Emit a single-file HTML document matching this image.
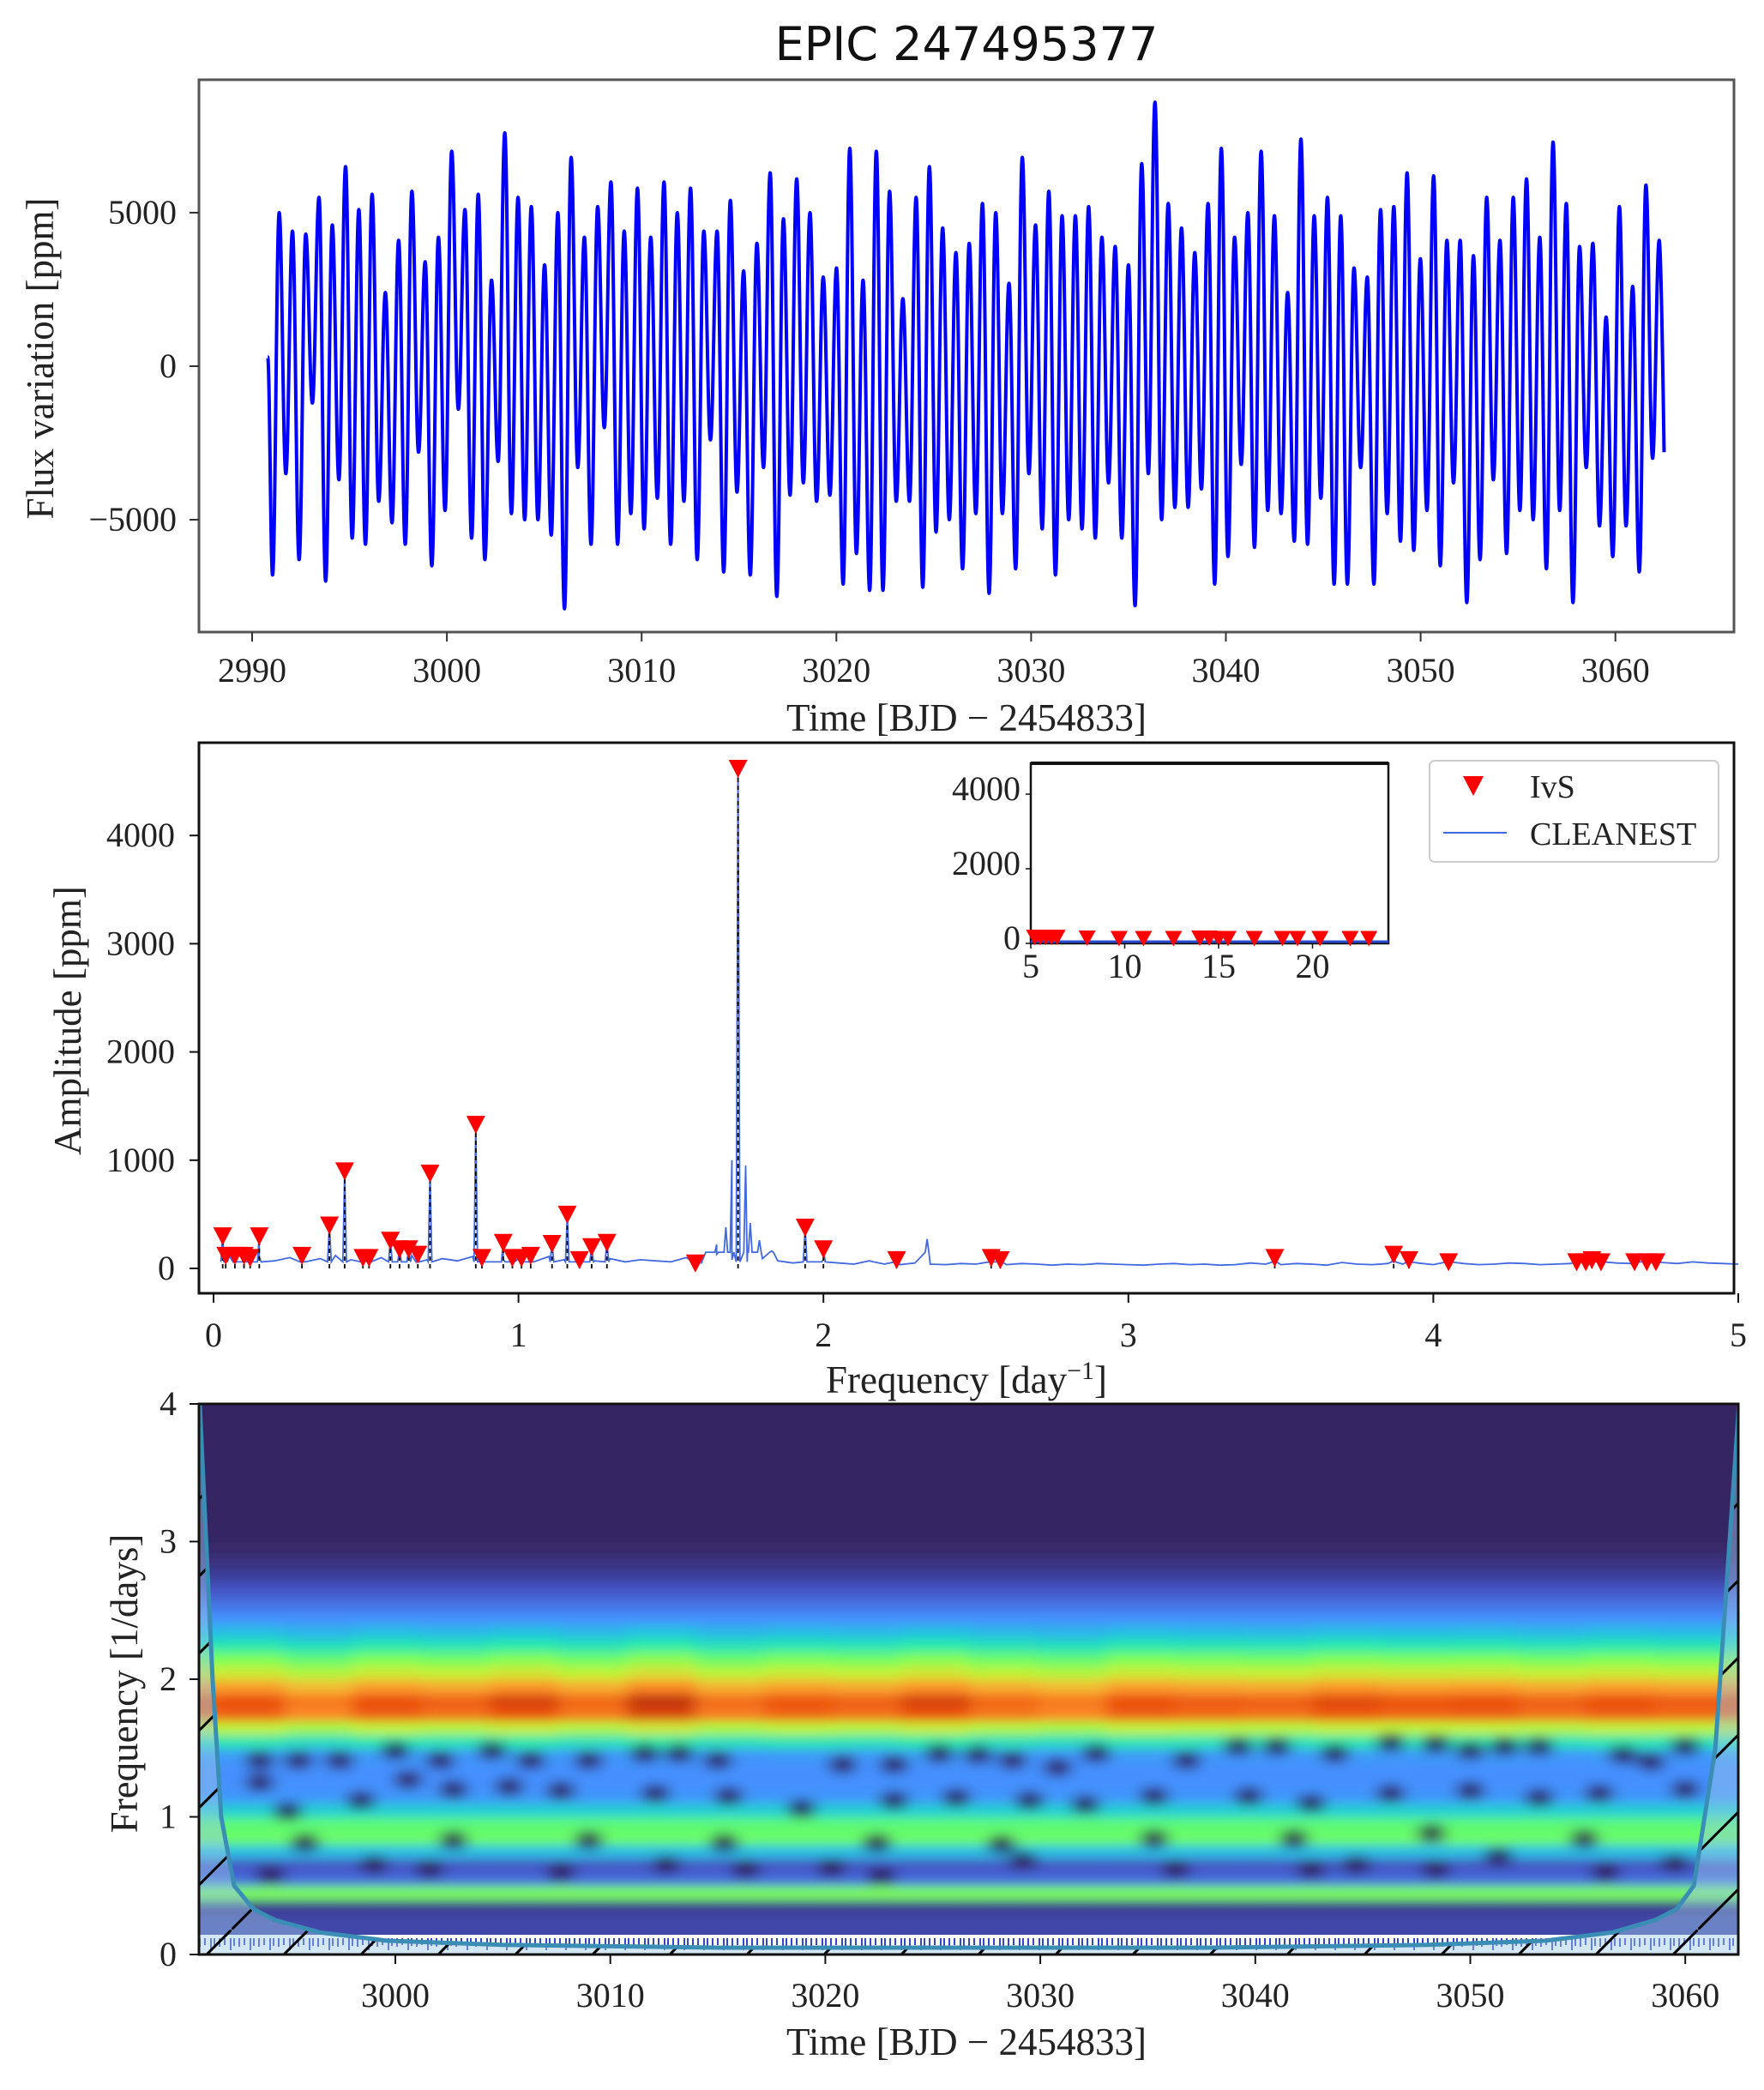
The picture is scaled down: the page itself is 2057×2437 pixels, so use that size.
<!DOCTYPE html>
<html><head><meta charset="utf-8"><style>
html,body{margin:0;padding:0;background:#fff}
svg{display:block}
.tk{font-family:"Liberation Serif",serif;font-size:40px;fill:#222}
.lb{font-family:"Liberation Serif",serif;font-size:45px;fill:#222}
</style></head><body>
<svg id="fig" width="2057" height="2437" viewBox="0 0 2057 2437" xmlns="http://www.w3.org/2000/svg">
<defs>
<pattern id="hatch" width="90" height="90" patternUnits="userSpaceOnUse"><path d="M0,90 L90,0" stroke="#000" stroke-width="3"/></pattern>
<pattern id="rug" width="23" height="20" patternUnits="userSpaceOnUse"><rect width="23" height="20" fill="#fff"/><path d="M3,0V10M9,0V8M16,0V14M20,0V9" stroke="#3446c8" stroke-width="2"/></pattern>
<clipPath id="c1"><rect x="232" y="93" width="1790" height="644"/></clipPath>
<clipPath id="c3"><rect x="232" y="1637" width="1795" height="642"/></clipPath>
<filter id="bl" x="-5%" y="-5%" width="110%" height="110%"><feGaussianBlur stdDeviation="9 6"/></filter>
</defs>
<text x="1127" y="70" text-anchor="middle" style="font-family:'DejaVu Sans','Liberation Sans',sans-serif;font-size:54px;fill:#111">EPIC 247495377</text>
<g id="p1"></g><g id="p2"></g><g id="p3"></g>
</svg>
<script>
// ---------- data: light curve extremes (ppm) ----------
const fluxPeaks=[5000,4400,4300,5500,4600,6500,5100,5600,2400,4100,5700,3400,4200,7000,5100,5600,2800,7600,5500,5200,3300,5000,6800,4200,5200,6000,4400,5800,4200,6000,5000,5800,4400,4400,5400,3100,4000,6300,4800,6100,5000,2900,3200,7100,2800,7000,5700,2200,5500,6500,4500,3700,4000,5300,5000,2700,6800,4600,5700,4900,4900,5200,4200,3900,3300,6600,8600,5300,4500,3700,5300,7100,4200,5000,7000,4900,2400,7400,4900,5500,4900,3200,2900,5100,5200,6300,3500,6200,4100,4100,3600,5500,4100,5500,6100,4200,7300,5300,3900,4000,1600,5200,2600,5900,4100,5300,5400,3100];
const fluxTroughs=[-6800,-3500,-6300,-1200,-7000,-3700,-5600,-5800,-4400,-5100,-5800,-2800,-6500,-4700,-1400,-5600,-6300,-3100,-4800,-5000,-5000,-5500,-7900,-3300,-5800,-2000,-5800,-4800,-5300,-4300,-5800,-4400,-6300,-2400,-6700,-4100,-6800,-3300,-7500,-4200,-3800,-4400,-4200,-7100,-6100,-7300,-7300,-4400,-4400,-7200,-5400,-5000,-6600,-4800,-7400,-4800,-6600,-3500,-5300,-6800,-5000,-5300,-5600,-3800,-5600,-7800,-3500,-5000,-4600,-4600,-4000,-7100,-6200,-3200,-5900,-4700,-4800,-5700,-5800,-4300,-7100,-7100,-3300,-7100,-4800,-5700,-6000,-4700,-6500,-3800,-7700,-6300,-3700,-6100,-4700,-5000,-6600,-4700,-7700,-3300,-5200,-6200,-5200,-6700,-3000];
const timeStart=2990.8, timeEnd=3062.5, fluxStart=300, fluxEnd=-2800;
const p1XTicks=[2990,3000,3010,3020,3030,3040,3050,3060];
const p1YTicks=[-5000,0,5000];
// ---------- data: periodogram ----------
const ivsFreq=[0.03,0.04,0.07,0.10,0.12,0.15,0.29,0.38,0.43,0.49,0.51,0.58,0.61,0.64,0.67,0.71,0.86,0.88,0.95,0.98,1.01,1.04,1.11,1.16,1.20,1.24,1.29,1.58,1.72,1.94,2.00,2.24,2.55,2.58,3.48,3.87,3.92,4.05,4.47,4.50,4.52,4.55,4.66,4.70,4.73];
const ivsAmp=[300,120,120,120,100,300,120,400,900,100,100,260,180,180,130,880,1330,100,240,100,100,120,230,500,80,200,240,50,4620,380,180,80,100,80,100,130,80,60,60,60,80,60,60,60,60];
const lobeFreq=[1.62,1.65,1.68,1.70,1.745,1.76,1.79,1.83,2.34];
const lobeAmp=[150,220,380,1000,950,420,260,160,270];
const noiseAmp=[80,120,90,110,70,100,60,90,120,80,70,100,60,120,80,90,70,110,60,80,90,60,110,80,100,70,90,60,80,70,60,100,50,130,80,60,90,70,50,60,80,50,40,70,40,35,50,40,35,45,40,30,35,45,40,30,40,35,45,40,35,30,40,45,35,40,30,35,50,40,35,45,40,30,55,40,35,45,40,50,35,40,45,35,40,50,45,35,40,45,40,35,50,45,40,55,45,60,50,45,40];
const p2XTicks=[0,1,2,3,4,5];
const p2YTicks=[0,1000,2000,3000,4000];
const insetIvsFreq=[5.2,5.5,5.8,6.1,6.4,8.0,9.7,11.0,12.6,14.0,14.5,15.0,15.5,16.9,18.4,19.2,20.4,22.0,23.0];
const insetIvsAmp=[180,180,180,180,180,160,150,150,150,160,160,150,150,150,150,150,150,150,150];
const insetXTicks=[5,10,15,20];
const insetYTicks=[0,2000,4000];
// ---------- data: wavelet ----------
const wvFreqProfile=[0.05,0.08,0.08,0.06,0.50,0.14,0.10,0.28,0.48,0.46,0.32,0.21,0.20,0.20,0.22,0.38,0.60,0.88,0.90,0.78,0.62,0.50,0.38,0.28,0.20,0.15,0.10,0.07,0.05,0.035,0.03,0.03,0.03,0.03,0.03,0.03,0.03,0.03,0.03,0.03];
const wvTimeMod=[0.98,1.0,0.93,1.0,0.97,1.02,0.96,1.04,0.95,0.99,0.97,1.02,0.96,0.93,1.0,0.98,0.97,1.01,0.99,1.0,0.97,1.0,0.98,0.99];
const spotTime=[2993.7,2995.5,2997.4,3000.0,3002.1,3004.5,3006.3,3009.0,3011.6,3013.2,3015.0,3020.8,3023.2,3025.3,3027.1,3028.7,3030.8,3032.6,3036.8,3039.2,3041.0,3043.7,3046.3,3048.4,3050.0,3051.6,3053.2,3057.1,3058.4,3060.0,
 2993.7,2998.4,3000.6,3002.7,3005.3,3007.7,3012.1,3015.5,3018.9,3023.2,3026.1,3029.5,3032.1,3035.3,3039.7,3042.6,3046.3,3050.0,3053.2,3056.0,3060.0,
 2995.0,2995.8,3002.7,3009.0,3015.3,3022.4,3028.2,3035.3,3041.8,3048.2,3055.3,
 2994.2,2999.0,3001.6,3007.7,3012.6,3016.3,3020.3,3022.6,3029.2,3036.3,3042.6,3044.7,3048.4,3051.3,3056.3,3059.5];
const spotFreq=[1.41,1.41,1.41,1.48,1.41,1.48,1.41,1.41,1.46,1.46,1.41,1.38,1.38,1.46,1.45,1.41,1.36,1.46,1.41,1.51,1.51,1.46,1.54,1.53,1.48,1.51,1.51,1.45,1.40,1.51,
 1.25,1.12,1.27,1.20,1.22,1.19,1.17,1.15,1.06,1.12,1.14,1.12,1.09,1.15,1.15,1.10,1.17,1.19,1.14,1.17,1.20,
 1.04,0.81,0.83,0.83,0.81,0.81,0.80,0.84,0.84,0.88,0.84,
 0.58,0.65,0.62,0.60,0.65,0.62,0.63,0.57,0.68,0.62,0.62,0.65,0.62,0.71,0.60,0.66];
const p3XTicks=[3000,3010,3020,3030,3040,3050,3060];
const p3YTicks=[0,1,2,3,4];
const coiTime=[2990.9,2991.5,2991.9,2992.5,2993.4,2994.4,2996.5,2999.6,3005,3015,3026,3038,3048,3053.5,3056.6,3058.6,3059.6,3060.4,3061.4,3062.5];
const coiFreq=[4.0,2.0,1.0,0.5,0.33,0.25,0.16,0.1,0.07,0.05,0.05,0.05,0.07,0.1,0.16,0.25,0.33,0.5,1.5,4.0];

const NS='http://www.w3.org/2000/svg';
function mk(par,tag,at,txt){const e=document.createElementNS(NS,tag);for(const k in at)e.setAttribute(k,at[k]);if(txt!==undefined)e.textContent=txt;par.appendChild(e);return e;}

// ================= Panel 1 =================
(function(){
const g=document.getElementById('p1');
const X=t=>294+(t-2990)*22.71, Y=v=>427-v*0.0358;
const n=Math.min(fluxPeaks.length,fluxTroughs.length);
const ext=[];for(let i=0;i<n;i++){ext.push(fluxTroughs[i]);ext.push(fluxPeaks[i]);}
const t1=2991.05,t2=3062.25,dt=(t2-t1)/(ext.length-1);
let d='M'+X(timeStart)+','+Y(fluxStart)+' ';
let px=X(timeStart),py=Y(fluxStart);
ext.forEach((v,i)=>{const x=X(t1+i*dt),y=Y(v);const h=(x-px)*0.4;d+='C'+(px+h)+','+py+' '+(x-h)+','+y+' '+x+','+y+' ';px=x;py=y;});
const xe=X(timeEnd),ye=Y(fluxEnd);d+='C'+(px+(xe-px)*0.4)+','+py+' '+xe+','+ye+' '+xe+','+ye;
const p=mk(g,'path',{d:d,fill:'none',stroke:'#0000ff','stroke-width':4,'clip-path':'url(#c1)'});


const fr=mk(g,'rect',{x:232,y:93,width:1790,height:644,fill:'none',stroke:'#555','stroke-width':3});


p1XTicks.forEach(t=>{mk(g,'line',{x1:X(t),x2:X(t),y1:737,y2:748,stroke:'#333','stroke-width':2});
 const tx=mk(g,'text',{x:X(t),y:795,'text-anchor':'middle',class:'tk'},t);
 
 });
p1YTicks.forEach(v=>{mk(g,'line',{x1:221,x2:232,y1:Y(v),y2:Y(v),stroke:'#333','stroke-width':2});
 const tx=mk(g,'text',{x:206,y:Y(v)+13,'text-anchor':'end',class:'tk'},v<0?'−'+(-v):v);
 
 });
const xl=mk(g,'text',{x:1127,y:852,'text-anchor':'middle',class:'lb'},'Time [BJD − 2454833]');


const yl=mk(g,'text',{x:0,y:0,'text-anchor':'middle',class:'lb',transform:'translate(62,418) rotate(-90)'},'Flux variation [ppm]');


})();

// ================= Panel 2 =================
(function(){
const g=document.getElementById('p2');
const X=f=>249+f*355.6, Y=a=>1479-a*0.1262;
let pts=[];
noiseAmp.forEach((a,i)=>pts.push([i*0.05,a]));
ivsFreq.forEach((f,i)=>{pts.push([f,ivsAmp[i]]);pts.push([f-0.006,60]);pts.push([f+0.006,60]);});
lobeFreq.forEach((f,i)=>{pts.push([f,lobeAmp[i]]);pts.push([f-0.006,Math.min(lobeAmp[i],150)]);pts.push([f+0.006,Math.min(lobeAmp[i],150)]);});
pts.sort((a,b)=>a[0]-b[0]);pts=pts.filter(p=>p[0]>=0.02&&p[0]<=5);
const sp=mk(g,'polyline',{points:pts.map(p=>X(p[0]).toFixed(1)+','+Y(p[1]).toFixed(1)).join(' '),fill:'none',stroke:'#4169e1','stroke-width':1.8});


ivsFreq.forEach((f,i)=>{
 const l=mk(g,'line',{x1:X(f),x2:X(f),y1:Y(0),y2:Y(ivsAmp[i]),stroke:'#000','stroke-width':1.8,'stroke-dasharray':'5,4'});
 
 
 const x=X(f),y=Y(ivsAmp[i]);
 const m=mk(g,'path',{d:`M${x-11},${y-10} L${x+11},${y-10} L${x},${y+11} Z`,fill:'#ff0000'});
 
 });
const fr=mk(g,'rect',{x:232,y:866,width:1790,height:642,fill:'none',stroke:'#111','stroke-width':3});


p2XTicks.forEach(t=>{mk(g,'line',{x1:X(t),x2:X(t),y1:1508,y2:1519,stroke:'#111','stroke-width':2});
 const tx=mk(g,'text',{x:X(t),y:1570,'text-anchor':'middle',class:'tk'},t);
 
 });
p2YTicks.forEach(v=>{mk(g,'line',{x1:221,x2:232,y1:Y(v),y2:Y(v),stroke:'#111','stroke-width':2});
 const tx=mk(g,'text',{x:204,y:Y(v)+13,'text-anchor':'end',class:'tk'},v);
 
 });
const xl=mk(g,'text',{x:1127,y:1624,'text-anchor':'middle',class:'lb'},'Frequency [day');


mk(xl,'tspan',{dy:-16,'font-size':30},'−1');mk(xl,'tspan',{dy:16},']');
const yl=mk(g,'text',{x:0,y:0,'text-anchor':'middle',class:'lb',transform:'translate(94,1190) rotate(-90)'},'Amplitude [ppm]');


// inset
const IX=f=>1202+(f-5)*21.9, IY=a=>1100-a*0.0435;
const ib=mk(g,'rect',{x:1202,y:890,width:417,height:210,fill:'#fff',stroke:'#111','stroke-width':2.5});


mk(g,'line',{x1:1202,x2:1619,y1:890,y2:890,stroke:'#111','stroke-width':4});
mk(g,'line',{x1:1202,x2:1619,y1:1098,y2:1098,stroke:'#2a4bd0','stroke-width':3});
insetIvsFreq.forEach((f,i)=>{const x=IX(f),y=IY(insetIvsAmp[i]);
 const m=mk(g,'path',{d:`M${x-10},${y-8} L${x+10},${y-8} L${x},${y+10} Z`,fill:'#ff0000'});
 
 });
insetXTicks.forEach(t=>{mk(g,'line',{x1:IX(t),x2:IX(t),y1:1100,y2:1106,stroke:'#111','stroke-width':1.5});
 const tx=mk(g,'text',{x:IX(t),y:1140,'text-anchor':'middle',class:'tk','font-size':19},t);
 
 });
insetYTicks.forEach(v=>{mk(g,'line',{x1:1196,x2:1202,y1:IY(v),y2:IY(v),stroke:'#111','stroke-width':1.5});
 const tx=mk(g,'text',{x:1190,y:IY(v)+7,'text-anchor':'end',class:'tk','font-size':19},v);
 
 });
// legend
const lg=mk(g,'g',{});


mk(lg,'rect',{x:1667,y:887,width:337,height:118,rx:6,fill:'#fff',stroke:'#ccc','stroke-width':2});
const lm=mk(lg,'path',{d:'M1706,905 L1730,905 L1718,928 Z',fill:'#ff0000'});


const lt=mk(lg,'text',{x:1784,y:930,class:'tk',style:'font-size:38px'},'IvS');


mk(lg,'line',{x1:1683,x2:1757,y1:971,y2:971,stroke:'#4169e1','stroke-width':2});
const lt2=mk(lg,'text',{x:1784,y:985,class:'tk',style:'font-size:38px'},'CLEANEST');


})();

// ================= Panel 3 =================
(function(){
const g=document.getElementById('p3');
const X=t=>461+(t-3000)*25.07, Y=f=>2279-f*160.5;
const stops=[[48,18,59],[68,84,196],[68,144,254],[31,200,222],[41,239,162],[125,255,86],[193,243,52],[241,202,58],[254,146,42],[234,79,13],[122,4,3]];
function cmap(v){v=Math.max(0,Math.min(1,v))*10;const i=Math.min(9,Math.floor(v)),f=v-i;const a=stops[i],b=stops[i+1];return 'rgb('+a.map((c,k)=>Math.round(c+(b[k]-c)*f)).join(',')+')';}
const hm=mk(g,'g',{'clip-path':'url(#c3)'});


const inner=mk(hm,'g',{filter:'url(#bl)'});
mk(inner,'rect',{x:200,y:1600,width:1860,height:60,fill:cmap(wvFreqProfile[wvFreqProfile.length-1])});
const t0=2988.5,t1=3065,nc=wvTimeMod.length,cw=(t1-t0)/nc;
for(let r=0;r<wvFreqProfile.length;r++){
 for(let c=0;c<nc;c++){
  const pv=wvFreqProfile[r];
  const v=(r>=14&&r<=23)?pv*wvTimeMod[c]:pv;
  const cell=mk(inner,'rect',{x:X(t0+c*cw)-1,y:Y((r+1)*0.1)-1,width:cw*25.07+2,height:18,fill:cmap(v)});
  
  
 }
}
spotTime.forEach((t,i)=>{
 const s=mk(inner,'ellipse',{cx:X(t),cy:Y(spotFreq[i]),rx:16,ry:12,fill:'#2a0f45','fill-opacity':0.75});
 
 
});
// rug strip
const rug=mk(hm,'rect',{x:232,y:2256,width:1795,height:23,fill:'url(#rug)'});


// outside cone
let cp='';coiTime.forEach((t,i)=>cp+=(i?'L':'M')+X(t).toFixed(1)+','+Y(coiFreq[i]).toFixed(1)+' ');
const outside=cp+`L2027,1637 L2027,2279 L232,2279 L232,1637 Z`;
const o=mk(hm,'path',{d:outside,fill:'#9ec8e6','fill-opacity':0.45,'fill-rule':'evenodd'});


mk(hm,'path',{d:outside,fill:'url(#hatch)','fill-rule':'evenodd'});
const cl=mk(hm,'path',{d:cp,fill:'none',stroke:'#3a8db5','stroke-width':5,'stroke-linejoin':'round'});


const fr=mk(g,'rect',{x:232,y:1637,width:1795,height:642,fill:'none',stroke:'#111','stroke-width':3});


p3XTicks.forEach(t=>{mk(g,'line',{x1:X(t),x2:X(t),y1:2279,y2:2290,stroke:'#111','stroke-width':2});
 const tx=mk(g,'text',{x:X(t),y:2340,'text-anchor':'middle',class:'tk'},t);
 
 });
p3YTicks.forEach(v=>{mk(g,'line',{x1:221,x2:232,y1:Y(v),y2:Y(v),stroke:'#111','stroke-width':2});
 const tx=mk(g,'text',{x:206,y:Y(v)+13,'text-anchor':'end',class:'tk'},v);
 
 });
const xl=mk(g,'text',{x:1127,y:2396,'text-anchor':'middle',class:'lb'},'Time [BJD − 2454833]');


const yl=mk(g,'text',{x:0,y:0,'text-anchor':'middle',class:'lb',transform:'translate(160,1963) rotate(-90)'},'Frequency [1/days]');


})();
</script>
</body></html>
